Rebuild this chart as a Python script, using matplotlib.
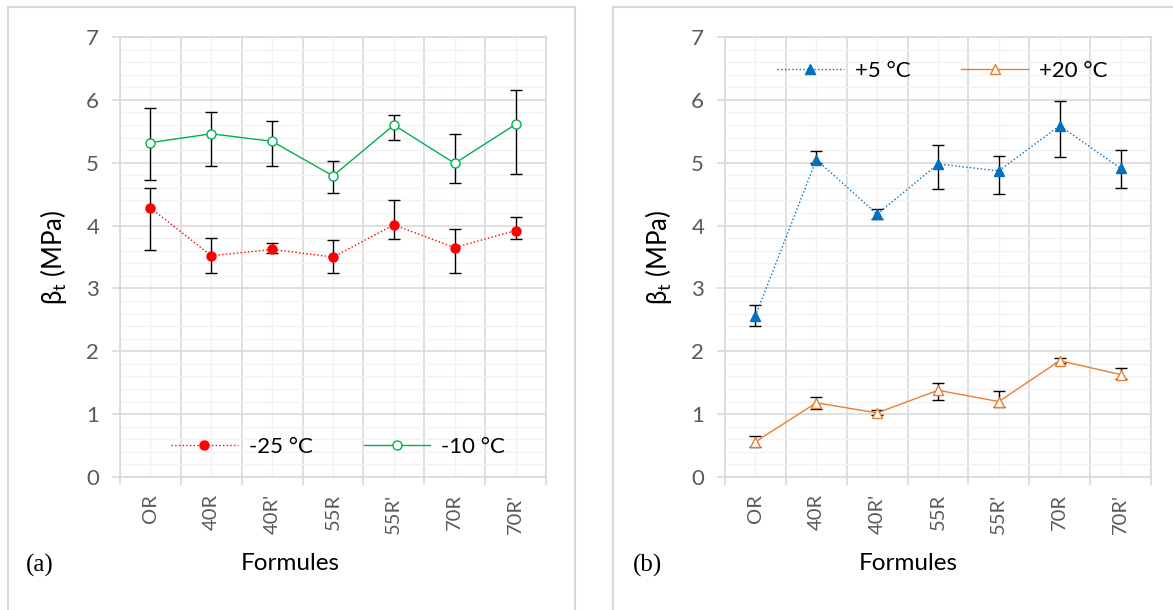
import numpy as np
import matplotlib
matplotlib.use('Agg')
import matplotlib.pyplot as plt
from matplotlib.patches import Rectangle
from matplotlib.ticker import MultipleLocator

plt.rcParams['font.family'] = ['Lato', 'DejaVu Sans']

formules = ['OR', '40R', "40R'", '55R', "55R'", '70R', "70R'"]

# panel (a)
m25 = [4.28, 3.52, 3.62, 3.50, 4.01, 3.65, 3.92]
m25_lo = [3.61, 3.24, 3.56, 3.24, 3.79, 3.24, 3.78]
m25_hi = [4.60, 3.80, 3.72, 3.77, 4.40, 3.95, 4.14]
m10 = [5.32, 5.46, 5.34, 4.79, 5.60, 4.99, 5.61]
m10_lo = [4.72, 4.95, 4.95, 4.52, 5.36, 4.67, 4.82]
m10_hi = [5.87, 5.81, 5.67, 5.02, 5.76, 5.46, 6.15]

# panel (b)
p5 = [2.56, 5.05, 4.18, 4.98, 4.87, 5.59, 4.91]
p5_lo = [2.40, 4.99, 4.11, 4.58, 4.51, 5.09, 4.60]
p5_hi = [2.73, 5.18, 4.26, 5.28, 5.11, 5.98, 5.21]
p20 = [0.56, 1.18, 1.02, 1.38, 1.20, 1.85, 1.63]
p20_lo = [0.47, 1.08, 0.98, 1.22, 1.12, 1.82, 1.56]
p20_hi = [0.66, 1.28, 1.06, 1.49, 1.37, 1.89, 1.73]

GRAY = '#595959'
GRID = '#D9D9D9'
MINOR = '#F2F2F2'

fig = plt.figure(figsize=(11.73, 6.10), dpi=100)

# panel frames
fig.patches.append(Rectangle((8/1173, -0.02), 567/1173, 1.0085, transform=fig.transFigure,
                             fill=False, edgecolor=GRID, lw=1.5, zorder=-5))
fig.patches.append(Rectangle((613/1173, -0.02), 0.5, 1.0085, transform=fig.transFigure,
                             fill=False, edgecolor=GRID, lw=1.5, zorder=-5))

ax1 = fig.add_axes([120/1173, 133/610, 426/1173, 440/610])
ax2 = fig.add_axes([725/1173, 133/610, 426/1173, 440/610])


def series(ax, y, lo, hi, color, marker, ls, filled, label):
    x = np.arange(len(y))
    y = np.array(y)
    err = [y - np.array(lo), np.array(hi) - y]
    ax.errorbar(x, y, yerr=err, fmt='none', ecolor='black', elinewidth=1.0,
                capsize=4.5, capthick=1.0, zorder=3)
    ax.plot(x, y, color=color, ls=ls, lw=1.0, marker=marker,
            ms=7 if marker == '^' else 6.5,
            mfc=color if filled else 'white', mec=color, mew=1.0,
            label=label, zorder=4)


def style(ax):
    ax.set_xlim(-0.5, 6.5)
    ax.set_ylim(0, 7)
    ax.set_xticks(range(len(formules)))
    ax.set_xticklabels(formules, rotation=90, fontsize=14.5, color=GRAY)
    ax.set_xticks(np.arange(-0.5, 7, 1), minor=True)
    ax.yaxis.set_major_locator(MultipleLocator(1))
    ax.yaxis.set_minor_locator(MultipleLocator(0.2))
    ax.tick_params(axis='x', which='major', length=0, pad=12)
    ax.tick_params(axis='x', which='minor', length=6, color=GRID, width=1.2)
    ax.tick_params(axis='y', which='major', length=6, color=GRID, width=1.2,
                   labelsize=16, labelcolor=GRAY, pad=9)
    ax.tick_params(axis='y', which='minor', length=0)
    ax.grid(axis='y', which='major', color=GRID, lw=1.2, zorder=0)
    ax.grid(axis='y', which='minor', color=MINOR, lw=1.0, zorder=0)
    ax.grid(axis='x', which='minor', color=GRID, lw=1.2, zorder=0)
    ax.grid(axis='x', which='major', color=MINOR, lw=1.0, zorder=0)
    ax.set_axisbelow(True)
    for s in ax.spines.values():
        s.set_color(GRID)
        s.set_linewidth(1.2)
    ax.set_ylabel('β$_\\mathregular{t}$ (MPa)', fontsize=18.5, labelpad=12)


series(ax1, m25, m25_lo, m25_hi, '#FF0000', 'o', ':', True, '-25 °C')
series(ax1, m10, m10_lo, m10_hi, '#00B050', 'o', '-', False, '-10 °C')
series(ax2, p5, p5_lo, p5_hi, '#0070C0', '^', ':', True, '+5 °C')
series(ax2, p20, p20_lo, p20_hi, '#ED7D31', '^', '-', False, '+20 °C')

for ax in (ax1, ax2):
    style(ax)

ax1.legend(loc='center', bbox_to_anchor=(0.512, 0.068), ncol=2, frameon=False,
           fontsize=16, handlelength=3.0, columnspacing=2.3, handletextpad=0.5)
ax2.legend(loc='center', bbox_to_anchor=(0.51, 0.923), ncol=2, frameon=False,
           fontsize=16, handlelength=3.0, columnspacing=2.3, handletextpad=0.5)

fig.text(290/1173, 1 - 563/610, 'Formules', fontsize=17.5, ha='center', va='center')
fig.text(908/1173, 1 - 563/610, 'Formules', fontsize=17.5, ha='center', va='center')
fig.text(40/1173, 1 - 565/610, '(a)', fontsize=18, ha='center', va='center',
         family='Liberation Serif')
fig.text(647/1173, 1 - 565/610, '(b)', fontsize=18, ha='center', va='center',
         family='Liberation Serif')

fig.savefig('out.png', dpi=100)
